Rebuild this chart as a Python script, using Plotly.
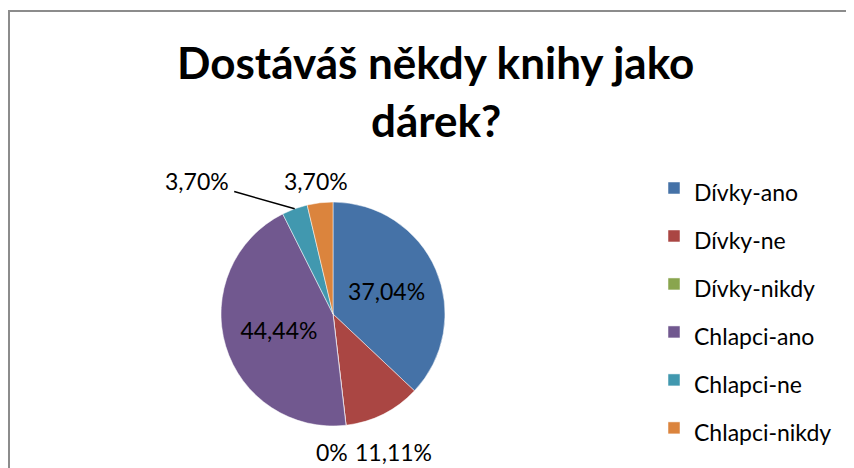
import math
import plotly.graph_objects as go

categories = ["Dívky-ano", "Dívky-ne", "Dívky-nikdy", "Chlapci-ano", "Chlapci-ne", "Chlapci-nikdy"]
counts = [10, 3, 0, 12, 1, 1]
colors = ["#4572A7", "#AA4643", "#89A54E", "#71588F", "#4198AF", "#DB843D"]
title_lines = ["Dostáváš někdy knihy jako", "dárek?"]

total = sum(counts)
def fmt(v):
    p = v / total * 100
    if p == 0:
        return "0%"
    return f"{p:.2f}".replace(".", ",") + "%"
labels_txt = [fmt(v) for v in counts]
is_inside = [v / total > 0.2 for v in counts]

# page body has an 8px margin; compensate so the figure fills the 854x468 window
OFF = 8
W, H = 854 - OFF, 468 - OFF
cx, cy, r = 333 - OFF, 314 - OFF, 112
FONT = "Lato"

fig = go.Figure(go.Pie(
    labels=[f"<span style='font-size:23px'>{c}</span>" for c in categories],
    values=counts,
    text=[t if ins else "" for t, ins in zip(labels_txt, is_inside)],
    textinfo="text",
    textposition="inside",
    insidetextorientation="horizontal",
    textfont=dict(family=FONT, size=23, color="black"),
    marker=dict(colors=colors, line=dict(color="white", width=0.5)),
    sort=False,
    direction="clockwise",
    rotation=0,
    hoverinfo="skip",
    domain=dict(x=[(cx - r) / W, (cx + r) / W], y=[(H - cy - r) / H, (H - cy + r) / H]),
))

annotations = []
for line, yc in zip(title_lines, [54, 112]):
    annotations.append(dict(text=f"<b>{line}</b>", x=(436 - OFF) / W, y=1 - yc / H, xref="paper", yref="paper",
                            xanchor="center", yanchor="middle", showarrow=False,
                            font=dict(family=FONT, size=44, color="black")))

# outside data labels: placed radially from each slice's mid angle, nudged apart like the original
label_r = 132
nudges = {1: (1, 20), 2: (-16, 7), 4: (-91, -9), 5: (-2, -2)}
leader = {4}
cum = 0
for i, v in enumerate(counts):
    mid = (cum + v / 2) / total * 2 * math.pi
    cum += v
    if is_inside[i]:
        continue
    dx, dy = nudges.get(i, (0, 0))
    lx = cx + label_r * math.sin(mid) + dx
    ly = cy - label_r * math.cos(mid) + dy
    a = dict(text=labels_txt[i], xref="paper", yref="paper", xanchor="center", yanchor="middle",
             font=dict(family=FONT, size=23, color="black"))
    if i in leader:
        ex = cx + r * math.sin(mid)
        ey = cy - r * math.cos(mid)
        a.update(x=ex / W, y=1 - ey / H, showarrow=True, arrowhead=0, arrowwidth=1.5,
                 arrowcolor="black", ax=lx - ex, ay=ly - ey, standoff=0, startstandoff=4)
    else:
        a.update(x=lx / W, y=1 - ly / H, showarrow=False)
    annotations.append(a)

fig.update_layout(
    width=W, height=H,
    margin=dict(l=0, r=0, t=0, b=0),
    paper_bgcolor="white",
    plot_bgcolor="white",
    showlegend=True,
    legend=dict(x=(654 - OFF) / W, y=1 - (159 - OFF) / H, xanchor="left", yanchor="top",
                font=dict(family=FONT, size=34.6, color="black"), bgcolor="rgba(0,0,0,0)"),
    annotations=annotations,
    shapes=[dict(type="rect", xref="paper", yref="paper", x0=1 / W, x1=1.02, y0=-0.02, y1=1 - 3 / H,
                 line=dict(color="#8C8C8C", width=2), fillcolor="rgba(0,0,0,0)", layer="below")],
)

fig.write_html("out.html")
